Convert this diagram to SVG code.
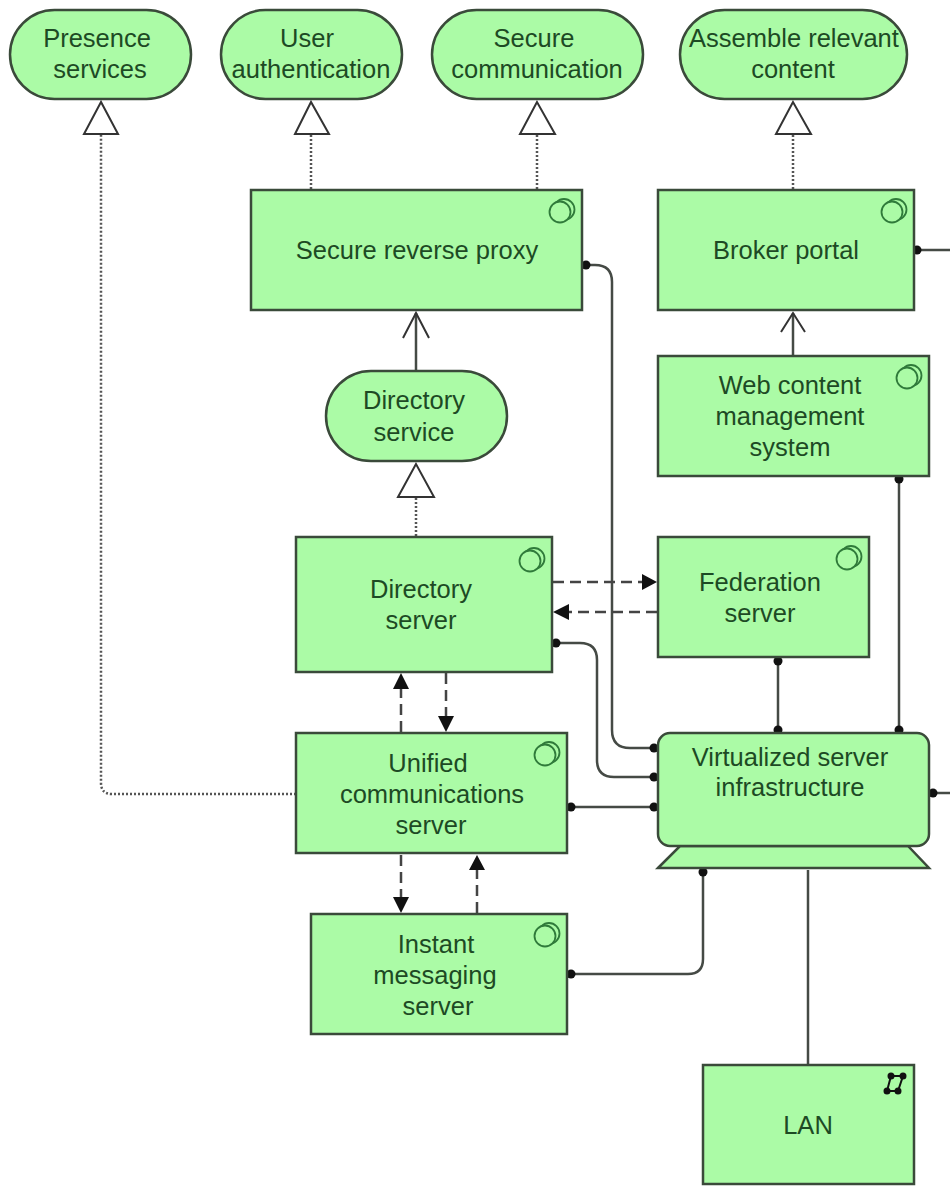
<svg xmlns="http://www.w3.org/2000/svg" width="950" height="1187" viewBox="0 0 950 1187">
<style>
.n{fill:#abfba6;stroke:#3a4a3a;stroke-width:2.5}
.t{font-family:"Liberation Sans",Arial,sans-serif;font-size:25.500px;fill:#1d4a24;text-anchor:middle}
.i{fill:#abfba6;stroke:#2f7a3a;stroke-width:1.8}
.c{fill:none;stroke:#454a45;stroke-width:2.5}
.dot{fill:none;stroke:#555;stroke-width:2.5;stroke-dasharray:2 2}
.dash{fill:none;stroke:#444;stroke-width:2.5;stroke-dasharray:11 6}
.tri{fill:#fff;stroke:#333;stroke-width:2}
.open{fill:none;stroke:#333;stroke-width:2}
.b{fill:#111}
</style>
<defs>
<g id="comp"><circle class="i" cx="4" cy="-2.500" r="10.500"/><circle class="i" cx="0" cy="0" r="10.500"/></g>
</defs>
<rect width="950" height="1187" fill="#fff"/>
<g id="connectors">
<path class="dot" d="M296 794H112Q101 794 101 783V134"/>
<path class="dot" d="M311 189V134"/>
<path class="dot" d="M537 189V134"/>
<path class="dot" d="M793 189V134"/>
<path class="dot" d="M416 536V497"/>
<path class="c" d="M416 370V313"/>
<path class="c" d="M793 355V313"/>
<path class="c" d="M584 265H595Q612 265 612 282V730Q612 748 630 748H656"/>
<path class="c" d="M553 643H580Q597 643 597 660V760Q597 777 614 777H656"/>
<path class="c" d="M568 807H656"/>
<path class="c" d="M778 659V732"/>
<path class="c" d="M899 477V732"/>
<path class="c" d="M568 974H688Q703 974 703 959V870"/>
<path class="c" d="M808 870V1064"/>
<path class="c" d="M915 250H950"/>
<path class="c" d="M930 793H950"/>
<path class="dash" d="M553 582H645"/>
<path class="dash" d="M657 612H568"/>
<path class="dash" d="M401 732V688"/>
<path class="dash" d="M446 673V718"/>
<path class="dash" d="M401 855V898"/>
<path class="dash" d="M477 913V869"/>
<g id="arrowheads">
<path class="tri" d="M101 102L84 134H118Z"/>
<path class="tri" d="M311 102L295 134H329Z"/>
<path class="tri" d="M537 102L520 134H555Z"/>
<path class="tri" d="M793 102L776 134H811Z"/>
<path class="tri" d="M416 464L398 497H434Z"/>
<path class="open" d="M403 338L416 313L429 338"/>
<path class="open" d="M781 332L793 313L805 332"/>
<path class="b" d="M657 582L642 574V590Z"/>
<path class="b" d="M553 612L569 604V620Z"/>
<path class="b" d="M401 673L393 689H409Z"/>
<path class="b" d="M446 732L438 716H454Z"/>
<path class="b" d="M401 913L393 897H409Z"/>
<path class="b" d="M477 855L469 870H485Z"/>
<circle class="b" cx="586" cy="265" r="4.500"/><circle class="b" cx="556" cy="643" r="4.500"/><circle class="b" cx="571" cy="807" r="4.500"/>
<circle class="b" cx="654" cy="748" r="4.500"/><circle class="b" cx="654" cy="777" r="4.500"/><circle class="b" cx="654" cy="807" r="4.500"/>
<circle class="b" cx="778" cy="661" r="4.500"/><circle class="b" cx="778" cy="730" r="4.500"/><circle class="b" cx="899" cy="479" r="4.500"/><circle class="b" cx="899" cy="730" r="4.500"/>
<circle class="b" cx="571" cy="974" r="4.500"/><circle class="b" cx="703" cy="872" r="4.500"/><circle class="b" cx="917" cy="250" r="4.500"/><circle class="b" cx="933" cy="793" r="4.500"/>
</g>
</g>
<g id="presence"><rect class="n" x="10" y="10" width="181" height="89" rx="44.500"/><text class="t"><tspan x="97" y="47">Presence</tspan><tspan x="100" y="78">services</tspan></text></g>
<g id="auth"><rect class="n" x="221" y="10" width="181" height="89" rx="44.500"/><text class="t"><tspan x="307" y="47">User</tspan><tspan x="311" y="78">authentication</tspan></text></g>
<g id="secure-comm"><rect class="n" x="432" y="10" width="211" height="89" rx="44.500"/><text class="t"><tspan x="534" y="47">Secure</tspan><tspan x="537" y="78">communication</tspan></text></g>
<g id="assemble"><rect class="n" x="680" y="10" width="227" height="89" rx="44.500"/><text class="t"><tspan x="794" y="47">Assemble relevant</tspan><tspan x="793" y="78">content</tspan></text></g>
<g id="proxy"><rect class="n" x="251" y="190" width="331" height="120"/><use href="#comp" x="560" y="212"/><text class="t" x="417" y="259">Secure reverse proxy</text></g>
<g id="broker"><rect class="n" x="658" y="190" width="256" height="120"/><use href="#comp" x="892" y="212"/><text class="t" x="786" y="259">Broker portal</text></g>
<g id="directory-service"><rect class="n" x="326" y="371" width="181" height="90" rx="45"/><text class="t"><tspan x="414" y="409">Directory</tspan><tspan x="414" y="441">service</tspan></text></g>
<g id="wcm"><rect class="n" x="658" y="356" width="271" height="120"/><use href="#comp" x="907" y="378"/><text class="t"><tspan x="790" y="394">Web content</tspan><tspan x="790" y="425">management</tspan><tspan x="790" y="456">system</tspan></text></g>
<g id="directory-server"><rect class="n" x="296" y="537" width="256" height="135"/><use href="#comp" x="530" y="561"/><text class="t"><tspan x="421" y="598">Directory</tspan><tspan x="421" y="629">server</tspan></text></g>
<g id="federation"><rect class="n" x="658" y="537" width="211" height="120"/><use href="#comp" x="847" y="559"/><text class="t"><tspan x="760" y="591">Federation</tspan><tspan x="760" y="622">server</tspan></text></g>
<g id="ucs"><rect class="n" x="296" y="733" width="271" height="120"/><use href="#comp" x="545" y="755"/><text class="t"><tspan x="428" y="772">Unified</tspan><tspan x="432" y="803">communications</tspan><tspan x="431" y="834">server</tspan></text></g>
<g id="virtualized"><path class="n" stroke-width="2" d="M658 868L680 846H908L929 868Z"/><rect class="n" x="658" y="733" width="271" height="113" rx="12"/><text class="t"><tspan x="790" y="766">Virtualized server</tspan><tspan x="790" y="796">infrastructure</tspan></text></g>
<g id="im"><rect class="n" x="311" y="914" width="256" height="120"/><use href="#comp" x="545" y="936"/><text class="t"><tspan x="436" y="953">Instant</tspan><tspan x="435" y="984">messaging</tspan><tspan x="438" y="1015">server</tspan></text></g>
<g id="lan"><rect class="n" x="703" y="1065" width="211" height="119"/><g fill="#111" stroke="#111" stroke-width="2"><path fill="none" d="M891 1076L903 1076L898 1091L887 1091Z"/><circle cx="891" cy="1076" r="2.500"/><circle cx="903" cy="1076" r="2.500"/><circle cx="898" cy="1091" r="2.500"/><circle cx="887" cy="1091" r="2.500"/></g><text class="t" x="808" y="1134">LAN</text></g>
</svg>
